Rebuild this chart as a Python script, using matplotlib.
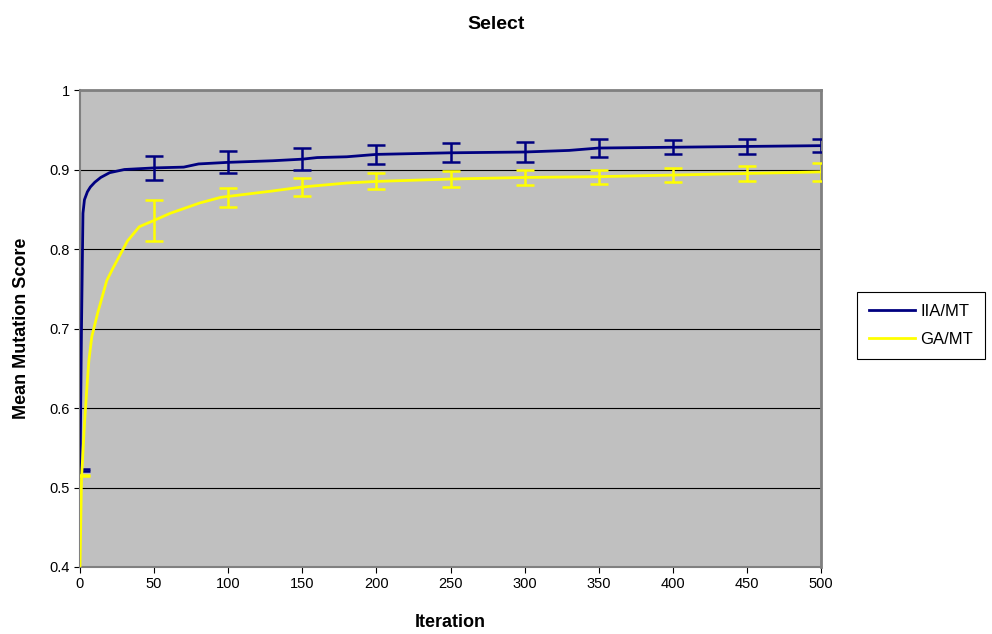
import numpy as np
import matplotlib.pyplot as plt

plt.rcParams['font.family'] = ['Liberation Sans', 'DejaVu Sans']

# IIA/MT curve
iia_x = [0, 1, 2, 3, 5, 7, 10, 14, 20, 30, 50, 70, 80, 100, 130, 150, 160, 180, 200, 250, 300, 330, 350, 400, 450, 500]
iia_y = [0.515, 0.70, 0.845, 0.862, 0.872, 0.878, 0.884, 0.890, 0.896, 0.900, 0.902, 0.903, 0.907, 0.909, 0.911, 0.913, 0.915, 0.916, 0.919, 0.921, 0.922, 0.924, 0.927, 0.928, 0.929, 0.930]
# GA/MT curve
ga_x = [0, 1, 3, 5, 6, 8, 12, 18, 22, 32, 40, 50, 61, 81, 95, 130, 150, 180, 200, 250, 300, 350, 400, 450, 500]
ga_y = [0.40, 0.51, 0.58, 0.635, 0.66, 0.69, 0.72, 0.76, 0.775, 0.81, 0.828, 0.836, 0.845, 0.858, 0.865, 0.873, 0.878, 0.883, 0.885, 0.888, 0.890, 0.891, 0.893, 0.895, 0.897]

# error bars
err_x = [1, 50, 100, 150, 200, 250, 300, 350, 400, 450, 500]
iia_mean = [0.522, 0.902, 0.909, 0.913, 0.919, 0.921, 0.922, 0.927, 0.928, 0.929, 0.930]
iia_err = [0.001, 0.015, 0.014, 0.014, 0.012, 0.012, 0.012, 0.011, 0.009, 0.009, 0.008]
ga_mean = [0.515, 0.836, 0.865, 0.878, 0.885, 0.888, 0.890, 0.891, 0.893, 0.895, 0.897]
ga_err = [0.001, 0.026, 0.012, 0.011, 0.010, 0.010, 0.009, 0.009, 0.009, 0.009, 0.011]

navy = '#000080'
yellow = '#FFFF00'

fig = plt.figure(figsize=(9.92, 6.34), dpi=100)
ax = fig.add_axes([80 / 992, 1 - 567 / 634, (821 - 80) / 992, (567 - 90) / 634])
ax.set_facecolor('#C0C0C0')

ax.plot(iia_x, iia_y, color=navy, lw=2, label='IIA/MT', zorder=3)
ax.errorbar(err_x, iia_mean, yerr=iia_err, fmt='none', ecolor=navy, elinewidth=1.8,
            capsize=6.5, capthick=1.8, zorder=3)
ax.plot(ga_x, ga_y, color=yellow, lw=2, label='GA/MT', zorder=3)
ax.errorbar(err_x, ga_mean, yerr=ga_err, fmt='none', ecolor=yellow, elinewidth=1.8,
            capsize=6.5, capthick=1.8, zorder=3)

ax.set_xlim(0, 500)
ax.set_ylim(0.4, 1.0)
ax.set_xticks(np.arange(0, 501, 50))
ax.set_yticks(np.arange(0.4, 1.01, 0.1))
ax.set_yticklabels(['0.4', '0.5', '0.6', '0.7', '0.8', '0.9', '1'])
ax.yaxis.grid(True, color='black', lw=0.8)
ax.set_axisbelow(True)
ax.tick_params(labelsize=10.5, direction='out', length=4, color='black')
for s in ['left', 'bottom']:
    ax.spines[s].set_color('#808080')
    ax.spines[s].set_linewidth(1.5)
for s in ['right', 'top']:
    ax.spines[s].set_color('#808080')
    ax.spines[s].set_linewidth(2)

ax.set_xlabel('Iteration', fontsize=13, fontweight='bold', labelpad=16)
ax.set_ylabel('Mean Mutation Score', fontsize=13, fontweight='bold', labelpad=14)
fig.suptitle('Select', fontsize=14, fontweight='bold', y=0.975)

leg = fig.legend(loc='upper left', bbox_to_anchor=(857 / 992, 1 - 292 / 634),
                 fontsize=12, fancybox=False, edgecolor='black', framealpha=1,
                 handlelength=2.8, handletextpad=0.3, borderaxespad=0,
                 borderpad=0.7, labelspacing=0.8)
leg.get_frame().set_linewidth(0.8)

fig.savefig('out.png', dpi=100)
